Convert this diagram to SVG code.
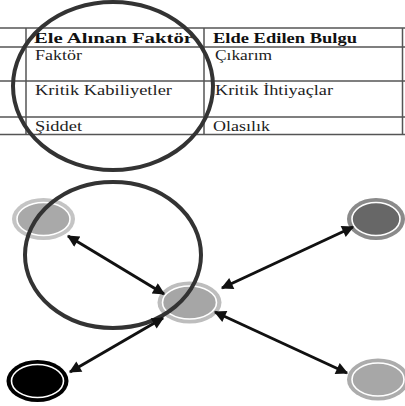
<svg xmlns="http://www.w3.org/2000/svg" width="405" height="406" viewBox="0 0 405 406">
<defs>
<style>
.grid{stroke:#555;stroke-width:1.5;fill:none}
.hdr{font-family:"Liberation Serif",serif;font-weight:bold;font-size:15px;fill:#111}
.txt{font-family:"Liberation Serif",serif;font-size:14.5px;fill:#222}
.ring{fill:none;stroke:#333;stroke-width:4}
.inner{stroke:#fff;stroke-width:1.6}
.conn{stroke:#111;stroke-width:3;fill:none;marker-start:url(#ah);marker-end:url(#ah)}
</style>
<marker id="ah" viewBox="0 0 10 10" refX="9" refY="5" markerWidth="4.5" markerHeight="4" orient="auto-start-reverse" markerUnits="strokeWidth">
<path d="M0,0 L10,5 L0,10 z" fill="#111"/>
</marker>
</defs>
<rect width="405" height="406" fill="#fff"/>
<g id="table">
<path class="grid" d="M0,28H405M0,47H405M0,81H405M0,117H405M0,134.5H405M26,28V134.5M204,28V134.5M402.5,28V134.5"/>
<text class="hdr" x="34" y="43" textLength="159" lengthAdjust="spacingAndGlyphs">Ele Alınan Faktör</text>
<text class="hdr" x="213" y="43" textLength="144" lengthAdjust="spacingAndGlyphs">Elde Edilen Bulgu</text>
<text class="txt" x="35" y="60" textLength="47" lengthAdjust="spacingAndGlyphs">Faktör</text>
<text class="txt" x="215" y="60" textLength="57" lengthAdjust="spacingAndGlyphs">Çıkarım</text>
<text class="txt" x="35" y="95" textLength="137" lengthAdjust="spacingAndGlyphs">Kritik Kabiliyetler</text>
<text class="txt" x="215" y="95" textLength="118" lengthAdjust="spacingAndGlyphs">Kritik İhtiyaçlar</text>
<text class="txt" x="35" y="131" textLength="47" lengthAdjust="spacingAndGlyphs">Şiddet</text>
<text class="txt" x="213" y="131" textLength="57" lengthAdjust="spacingAndGlyphs">Olasılık</text>
</g>
<g id="node-top-left">
<ellipse cx="43.5" cy="219" rx="31.5" ry="21" fill="#c4c4c4"/>
<ellipse class="inner" cx="43.5" cy="219" rx="26.5" ry="16.5" fill="#a9a9a9"/>
</g>
<g id="node-center">
<ellipse cx="189.5" cy="302.5" rx="32" ry="21" fill="#bdbdbd"/>
<ellipse class="inner" cx="189.5" cy="302.5" rx="27" ry="16.5" fill="#a6a6a6"/>
</g>
<g id="node-top-right">
<ellipse cx="376" cy="219" rx="29" ry="21" fill="#8a8a8a"/>
<ellipse class="inner" cx="376" cy="219" rx="24" ry="16.5" fill="#676767"/>
</g>
<g id="node-bottom-right">
<ellipse cx="378" cy="379.5" rx="31" ry="21" fill="#acacac"/>
<ellipse class="inner" cx="378" cy="379.5" rx="26" ry="16.5" fill="#a7a7a7"/>
</g>
<g id="node-bottom-left">
<ellipse cx="37.5" cy="381" rx="31" ry="21" fill="#000"/>
<ellipse class="inner" cx="37.5" cy="381" rx="26" ry="16.5" fill="#000"/>
</g>
<g id="circle-table">
<ellipse class="ring" cx="113" cy="86" rx="100" ry="84"/>
</g>
<g id="circle-graph">
<ellipse class="ring" cx="113" cy="255" rx="88" ry="73"/>
</g>
<g id="connectors">
<line class="conn" x1="68" y1="236" x2="164" y2="294"/>
<line class="conn" x1="163" y1="318" x2="70" y2="372"/>
<line class="conn" x1="222" y1="288" x2="353" y2="227"/>
<line class="conn" x1="215" y1="312" x2="347" y2="373"/>
</g>
</svg>
